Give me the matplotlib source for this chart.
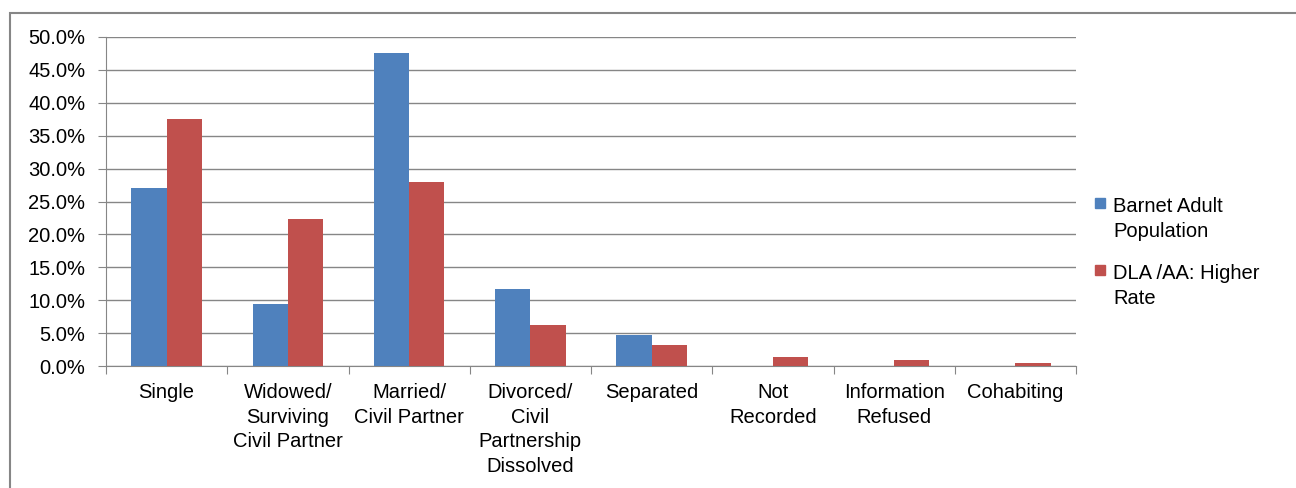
import numpy as np
import matplotlib
matplotlib.use("Agg")
import matplotlib.pyplot as plt
from matplotlib.patches import Rectangle
from matplotlib.ticker import FuncFormatter

categories = [
    "Single",
    "Widowed/\nSurviving\nCivil Partner",
    "Married/\nCivil Partner",
    "Divorced/\nCivil\nPartnership\nDissolved",
    "Separated",
    "Not\nRecorded",
    "Information\nRefused",
    "Cohabiting",
]
barnet_adult = [27.0, 9.4, 47.5, 11.7, 4.7, 0.0, 0.0, 0.0]
dla_higher = [37.5, 22.4, 27.9, 6.3, 3.2, 1.3, 0.9, 0.4]
series_names = ["Barnet Adult\nPopulation", "DLA /AA: Higher\nRate"]

BLUE = "#4f81bd"
RED = "#c0504d"
GRID = "#868686"
FS = 14.5

plt.rcParams["font.family"] = ["Liberation Sans", "DejaVu Sans"]

W, H = 1296, 488
fig = plt.figure(figsize=(W / 100, H / 100), dpi=100)
ax = fig.add_axes([106 / W, 122 / H, 970 / W, 329 / H])

# outer chart border
fig.patches.append(Rectangle((10 / W, -0.1), 1.2, (H - 13) / H + 0.1,
                             transform=fig.transFigure, fill=False,
                             edgecolor=GRID, linewidth=1.5))

x = np.arange(len(categories))
w = 0.29
ax.bar(x - w / 2, barnet_adult, w, color=BLUE, zorder=3)
ax.bar(x + w / 2, dla_higher, w, color=RED, zorder=3)

ax.set_xlim(-0.5, len(categories) - 0.5)
ax.set_ylim(0, 50)
ax.set_yticks(np.arange(0, 50.1, 5))
ax.yaxis.set_major_formatter(FuncFormatter(lambda v, _: f"{v:.1f}%"))
ax.yaxis.grid(True, color=GRID, linewidth=1)
ax.set_axisbelow(True)

# boundary ticks between categories, labels centred under each pair
ax.set_xticks(np.arange(-0.5, len(categories)))
ax.set_xticklabels([])
ax.set_xticks(x, minor=True)
ax.set_xticklabels(categories, minor=True, fontsize=FS, linespacing=1.39)
ax.tick_params(axis="x", which="major", length=6, color=GRID, direction="out")
ax.tick_params(axis="x", which="minor", length=0, pad=12)
ax.tick_params(axis="y", length=6, color=GRID, labelsize=FS, pad=9)

for side in ["top", "right"]:
    ax.spines[side].set_visible(False)
ax.spines["left"].set_color(GRID)
ax.spines["bottom"].set_color(GRID)

# legend drawn by hand so the swatch sits beside the first line of text
legend_tops = [198, 265]
for name, color, top in zip(series_names, [BLUE, RED], legend_tops):
    fig.patches.append(Rectangle((1095 / W, (H - top - 10) / H), 10 / W, 10 / H,
                                 transform=fig.transFigure, color=color))
    for i, line in enumerate(name.split("\n")):
        fig.text(1113 / W, (H - top - 14 - 25 * i) / H, line, fontsize=FS,
                 va="baseline", ha="left")

fig.savefig("out.png", dpi=100, facecolor="white")
